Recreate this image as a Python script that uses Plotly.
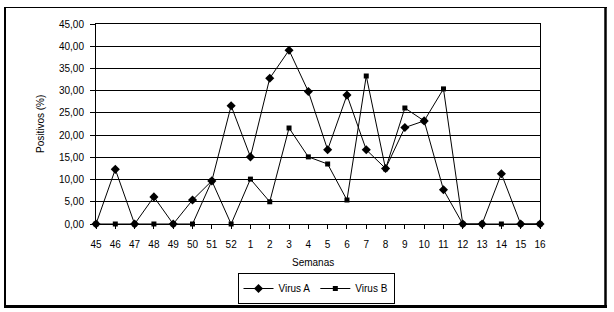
import plotly.graph_objects as go

weeks = ["45", "46", "47", "48", "49", "50", "51", "52", "1", "2", "3", "4",
         "5", "6", "7", "8", "9", "10", "11", "12", "13", "14", "15", "16"]
virus_a = [0, 12.3, 0, 6.1, 0, 5.4, 9.7, 26.6, 15.1, 32.8, 39.1, 29.8,
           16.7, 29.0, 16.7, 12.5, 21.7, 23.2, 7.7, 0, 0, 11.3, 0, 0]
virus_b = [0, 0, 0, 0, 0, 0, 9.7, 0, 10.1, 5.0, 21.6, 15.1,
           13.5, 5.4, 33.3, 12.4, 26.1, 23.2, 30.4, 0, 0, 0, 0, 0]

W, H = 614, 312
L, R, T, B = 96, 74, 24, 88
PW, PH = W - L - R, H - T - B


def px(x):
    return (x - L) / PW


def py(y):
    return (H - B - y) / PH


FONT = "Liberation Sans, Arial, sans-serif"

fig = go.Figure()
fig.add_trace(go.Scatter(
    x=weeks, y=virus_a, name="Virus A", mode="lines+markers",
    line=dict(color="black", width=1),
    marker=dict(symbol="diamond", size=7, color="black"),
    cliponaxis=False))
fig.add_trace(go.Scatter(
    x=weeks, y=virus_b, name="Virus B", mode="lines+markers",
    line=dict(color="black", width=1),
    marker=dict(symbol="square", size=5, color="black"),
    cliponaxis=False))

fig.update_layout(
    width=W, height=H,
    margin=dict(l=L, r=R, t=T, b=B, pad=0, autoexpand=False),
    paper_bgcolor="white", plot_bgcolor="white",
    separators=",.",
    font=dict(family=FONT, size=10, color="black"),
    showlegend=True,
    legend=dict(orientation="h", x=px(316), xanchor="center",
                y=py(273), yanchor="top",
                bordercolor="black", borderwidth=1,
                font=dict(size=10), itemwidth=30,
                tracegroupgap=0),
    xaxis=dict(type="category", range=[0, len(weeks) - 1],
               showgrid=False, showline=True, linecolor="black", linewidth=1,
               mirror=True, ticks="outside", ticklen=4, tickcolor="black",
               ticklabelstandoff=7,
               tickfont=dict(size=10), zeroline=False),
    yaxis=dict(range=[0, 45], dtick=5, tickformat=".2f",
               showgrid=True, gridcolor="black", gridwidth=1,
               showline=True, linecolor="black", linewidth=1, mirror=True,
               ticks="outside", ticklen=5, tickcolor="black",
               ticklabelstandoff=4,
               tickfont=dict(size=10), zeroline=False),
    annotations=[
        dict(text="Semanas", xref="paper", yref="paper", x=px(313), y=py(262),
             xanchor="center", yanchor="middle",
             showarrow=False, font=dict(size=10)),
        dict(text="Positivos (%)", xref="paper", yref="paper", x=px(40), y=py(124),
             xanchor="center", yanchor="middle",
             showarrow=False, textangle=-90, font=dict(size=10)),
    ],
    shapes=[
        dict(type="line", xref="paper", yref="paper", x0=px(4), x1=px(607),
             y0=py(7.5), y1=py(7.5), line=dict(color="black", width=1)),
        dict(type="line", xref="paper", yref="paper", x0=px(5), x1=px(5),
             y0=py(7), y1=py(307), line=dict(color="black", width=2)),
        dict(type="line", xref="paper", yref="paper", x0=px(605.5), x1=px(605.5),
             y0=py(7), y1=py(307), line=dict(color="black", width=2.5)),
        dict(type="line", xref="paper", yref="paper", x0=px(4), x1=px(607),
             y0=py(306.5), y1=py(306.5), line=dict(color="black", width=3)),
    ],
)

fig.write_html("out.html",
               config={"displayModeBar": False},
               post_script="document.body.style.margin='0';"
                           "document.body.style.padding='0';")
